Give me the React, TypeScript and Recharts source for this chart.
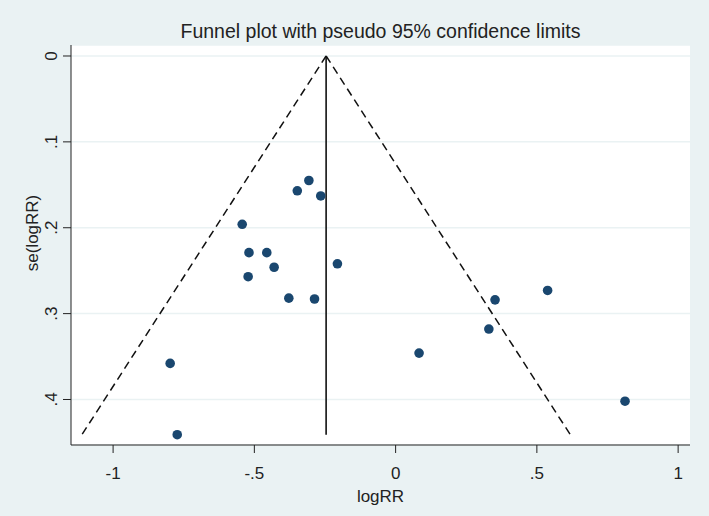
import { ComposedChart, Scatter, XAxis, YAxis, CartesianGrid, ReferenceLine } from 'recharts';

// study estimates
const logRR = [-0.307, -0.348, -0.265, -0.543, -0.519, -0.456, -0.43, -0.522, -0.206, -0.378, -0.287, 0.352, 0.538, 0.33, 0.083, -0.798, -0.773, 0.812];
const seLogRR = [0.145, 0.157, 0.163, 0.196, 0.229, 0.229, 0.246, 0.257, 0.242, 0.282, 0.283, 0.284, 0.273, 0.318, 0.346, 0.358, 0.441, 0.402];

const pooled = -0.246;
const xTicks = [-1, -0.5, 0, 0.5, 1];
const yTicks = [0, 0.1, 0.2, 0.3, 0.4];

const BG = '#eaf2f3';
const NAVY = '#1a476f';
const FONT = '"Liberation Sans", Arial, sans-serif';

// Stata style labels: drop the leading zero
const fmt = (v: number) => {
  if (v === 0) return '0';
  const s = String(v);
  return s.replace(/^(-?)0\./, '$1.');
};

const points = logRR.map((x, i) => ({ x, y: seLogRR[i] }));
const maxSe = Math.max(...seLogRR);

const YTick = (props: any) => {
  const { x, y, payload } = props;
  const bx = x - 4;
  return (
    <text x={bx} y={y} transform={`rotate(-90, ${bx}, ${y})`} textAnchor="middle" fontSize={17} fontFamily={FONT} fill="#222">
      {fmt(payload.value)}
    </text>
  );
};

const App = () => {
  return (
    <div style={{ position: 'absolute', left: 0, top: 0, width: 709, height: 516, background: BG }}>
      <div
        style={{
          position: 'absolute',
          left: 71,
          width: 619,
          top: 19,
          textAlign: 'center',
          fontFamily: FONT,
          fontSize: 19.5,
          lineHeight: '24px',
          color: '#222',
        }}
      >
        Funnel plot with pseudo 95% confidence limits
      </div>
      <ComposedChart width={709} height={516} margin={{ top: 45, right: 19, bottom: 0, left: 0 }}>
        <CartesianGrid vertical={false} stroke={BG} strokeWidth={1.5} fill="#ffffff" />
        <XAxis
          dataKey="x"
          type="number"
          domain={[-1.149, 1.042]}
          ticks={xTicks}
          allowDataOverflow
          tickFormatter={fmt}
          height={71}
          tickSize={8}
          tickMargin={14}
          stroke="#222"
          tick={{ fontSize: 17, fontFamily: FONT, fill: '#222' }}
          label={{
            content: (p: any) => {
              const vb = p.viewBox;
              return (
                <text x={vb.x + vb.width / 2} y={502} textAnchor="middle" fontSize={17} fontFamily={FONT} fill="#222">
                  logRR
                </text>
              );
            },
          }}
        />
        <YAxis
          dataKey="y"
          type="number"
          reversed
          domain={[-0.0128, 0.453]}
          ticks={yTicks}
          allowDataOverflow
          width={71}
          tickSize={8}
          tickMargin={2}
          stroke="#222"
          tick={<YTick />}
          label={{
            content: () => {
              const cy = 233;
              return (
                <text x={38} y={cy} transform={`rotate(-90, 38, ${cy})`} textAnchor="middle" fontSize={17} fontFamily={FONT} fill="#222">
                  se(logRR)
                </text>
              );
            },
          }}
        />
        <ReferenceLine
          segment={[{ x: pooled, y: 0 }, { x: pooled - 1.96 * maxSe, y: maxSe }]}
          stroke="#111"
          strokeWidth={1.5}
          strokeDasharray="8 5"
        />
        <ReferenceLine
          segment={[{ x: pooled, y: 0 }, { x: pooled + 1.96 * maxSe, y: maxSe }]}
          stroke="#111"
          strokeWidth={1.5}
          strokeDasharray="8 5"
        />
        <ReferenceLine segment={[{ x: pooled, y: 0 }, { x: pooled, y: maxSe }]} stroke="#111" strokeWidth={1.6} />
        <Scatter
          data={points}
          isAnimationActive={false}
          shape={(p: any) => <circle cx={p.cx} cy={p.cy} r={4.8} fill={NAVY} />}
        />
      </ComposedChart>
    </div>
  );
};

export default App;
